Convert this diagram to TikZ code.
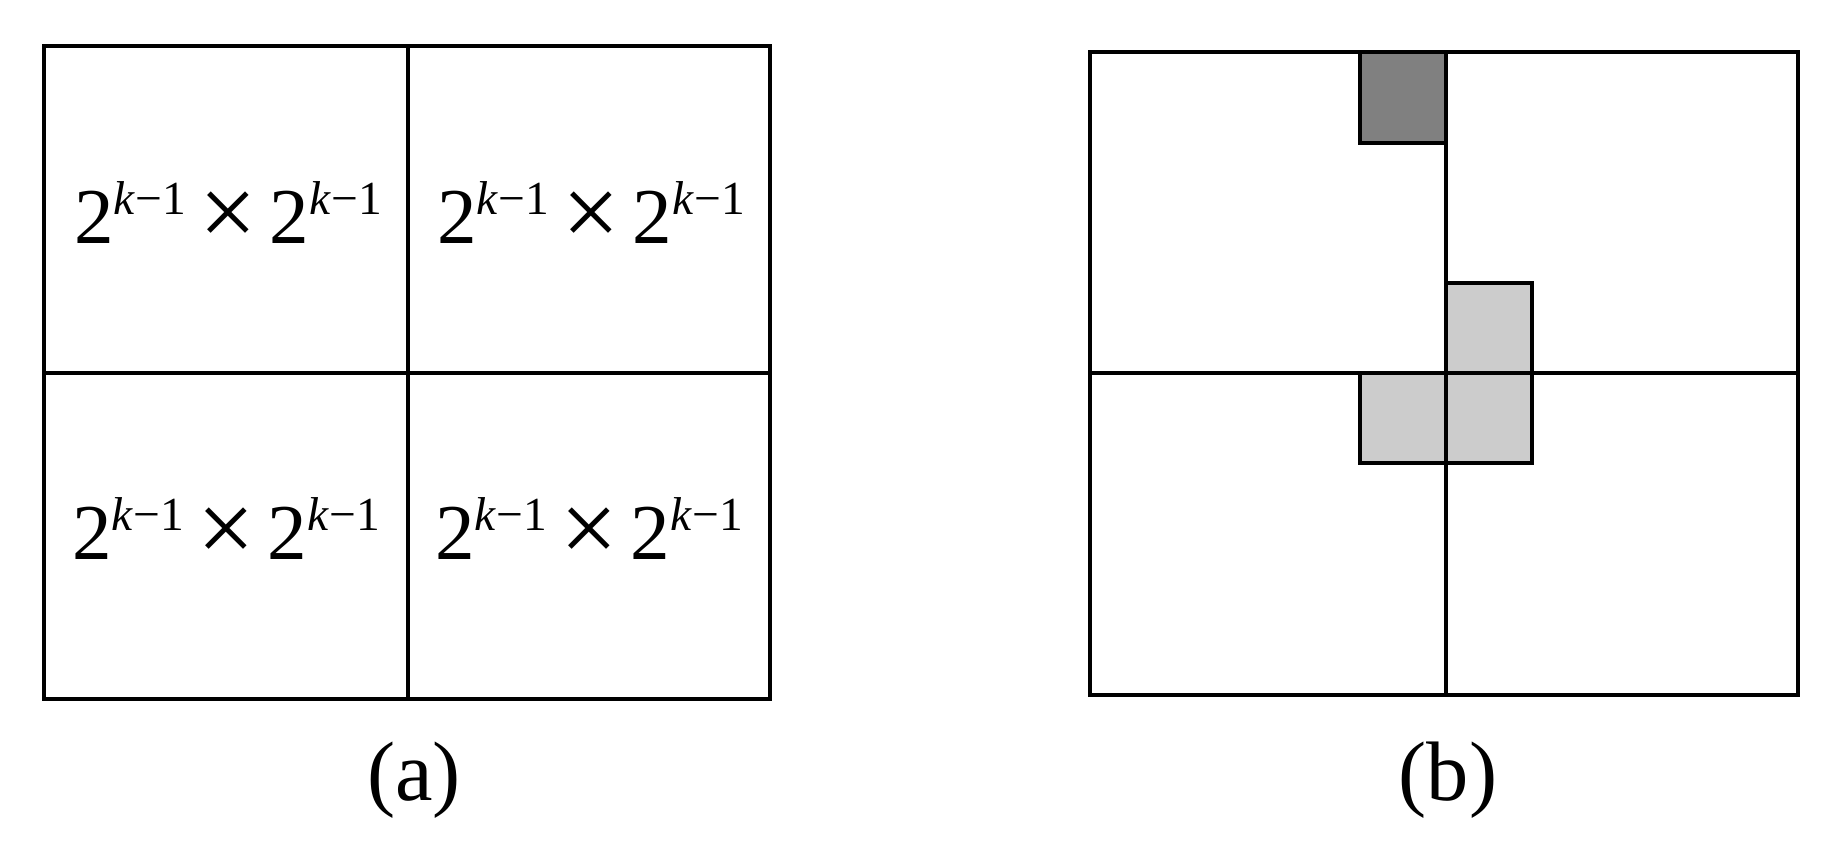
\documentclass[tikz,border=0pt]{standalone}
\usepackage{fontspec}
\setmainfont{Liberation Serif}
\newcommand{\pw}{2\raisebox{0.36em}{\fontsize{13.5}{14}\selectfont\textit{k}−1}}
\newcommand{\blocksize}{\pw\,\raisebox{-0.04em}{\fontsize{29}{29}\selectfont×}\,\pw}
\begin{document}
\begin{tikzpicture}[x=0.01cm,y=-0.01cm,
  frame/.style={line width=1pt},
  tile/.style={line width=1.3pt},
  lbl/.style={font=\fontsize{22.5}{27}\selectfont,inner sep=0pt}]
  \useasboundingbox (0,0) rectangle (1840,852);
  % (a) four quarters
  \draw[frame] (44,46) rectangle (770,699);
  \draw[frame] (408,46) -- (408,699);
  \draw[frame] (44,373) -- (770,373);
  \node[lbl] (NW) at (228,214) {\blocksize};
  \node[lbl] (NE) at (591,214) {\blocksize};
  \node[lbl] (SW) at (226,530) {\blocksize};
  \node[lbl] (SE) at (589,530) {\blocksize};
  \node[lbl,font=\fontsize{24}{28}\selectfont] (capa) at (414,780) {(a)};

  % (b) board with tiles
  \draw[tile,fill=black!50] (1360,52) rectangle (1446,143);
  \draw[tile,fill=black!20] (1446,283) rectangle (1532,373);
  \draw[tile,fill=black!20] (1360,373) rectangle (1532,463);
  \draw[frame] (1090,52) rectangle (1798,695);
  \draw[frame] (1446,52) -- (1446,695);
  \draw[frame] (1090,373) -- (1798,373);
  \node[lbl,font=\fontsize{24}{28}\selectfont] (capb) at (1448,780) {(b)};
\end{tikzpicture}
\end{document}
